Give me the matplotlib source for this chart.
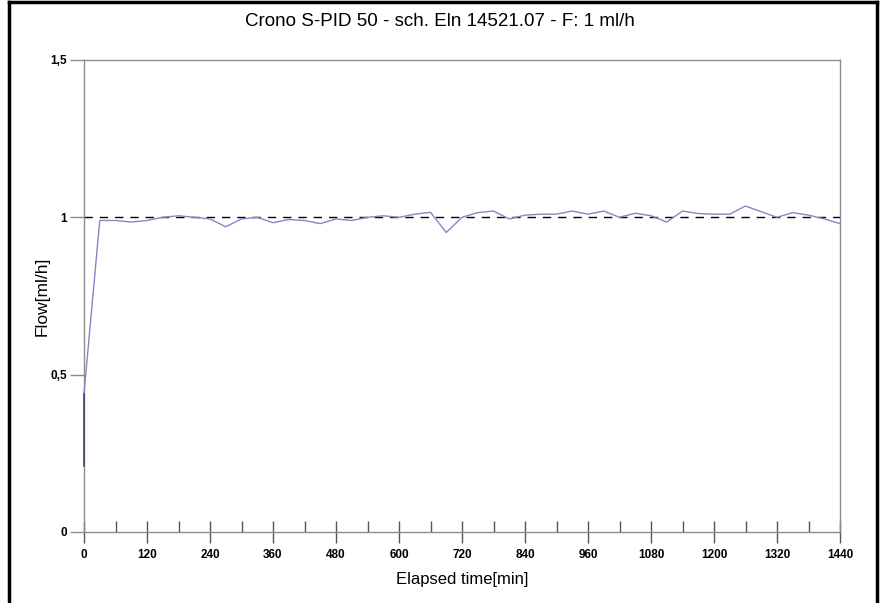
import matplotlib
matplotlib.use("Agg")
import matplotlib.pyplot as plt
from matplotlib.lines import Line2D

# Readings from the flow test (time in min, flow in ml/h)
elapsed_min = [0, 0, 30, 60, 90, 120, 150, 180, 210, 240, 270, 300, 330, 360, 390, 420,
               450, 480, 510, 540, 570, 600, 630, 660, 690, 720, 750, 780, 810, 840,
               870, 900, 930, 960, 990, 1020, 1050, 1080, 1110, 1140, 1170, 1200,
               1230, 1260, 1290, 1320, 1350, 1380, 1410, 1440]
flow_mlh = [0.21, 0.44, 0.99, 0.99, 0.985, 0.99, 1.0, 1.005, 1.0, 0.995, 0.97, 0.995,
            1.0, 0.983, 0.993, 0.99, 0.98, 0.995, 0.99, 1.0, 1.005, 1.0, 1.01, 1.016,
            0.952, 1.0, 1.015, 1.02, 0.995, 1.007, 1.01, 1.01, 1.02, 1.01, 1.02, 1.0,
            1.013, 1.005, 0.985, 1.02, 1.012, 1.01, 1.01, 1.036, 1.018, 1.0, 1.015,
            1.007, 0.995, 0.98]
set_flow = 1.0

x_ticks = list(range(0, 1441, 120))
x_minor = list(range(60, 1441, 120))
y_ticks = [0, 0.5, 1, 1.5]
y_labels = ["0", "0,5", "1", "1,5"]

plt.rcParams["font.family"] = ["Liberation Sans", "DejaVu Sans"]

fig = plt.figure(figsize=(8.8, 6.03), dpi=100)
ax = fig.add_axes([84 / 880, 1 - 532 / 603, 756 / 880, 472 / 603])

# the first vertical bit sits on the axis, draw it on top and unclipped
ax.plot(elapsed_min[:2], flow_mlh[:2], color="#44465e", linewidth=1.2, zorder=4, clip_on=False)
ax.plot(elapsed_min[1:], flow_mlh[1:], color="#8288c6", linewidth=1.0, zorder=3, clip_on=False)
ax.axhline(set_flow, color="black", linestyle=(0, (6, 5)), linewidth=1.0, zorder=2)

ax.set_xlim(0, 1440)
ax.set_ylim(0, 1.5)
ax.set_xticks(x_ticks)
ax.set_xticks(x_minor, minor=True)
ax.set_yticks(y_ticks)
ax.set_yticklabels(y_labels)

for s in ax.spines.values():
    s.set_color("#8c8c8c")
    s.set_linewidth(1.0)

ax.tick_params(axis="x", which="major", direction="inout", length=16, width=1,
               color="#555555", pad=4)
ax.tick_params(axis="x", which="minor", direction="in", length=8, width=1, color="#555555")
ax.tick_params(axis="y", which="major", direction="out", length=10, width=1,
               color="#8c8c8c", pad=2)
for lab in ax.get_xticklabels() + ax.get_yticklabels():
    lab.set_fontweight("bold")
    lab.set_fontsize(8.5)

ax.set_xlabel("Elapsed time[min]", fontsize=12, labelpad=8)
ax.set_ylabel("Flow[ml/h]", fontsize=12.5, va="center")
ax.yaxis.set_label_coords(-(84 - 42) / 756, 0.5)
fig.text(0.5, 1 - 22 / 603, "Crono S-PID 50 - sch. Eln 14521.07 - F: 1 ml/h",
         ha="center", va="center", fontsize=13.5)

# outer frame
fig.add_artist(Line2D([9 / 880, 9 / 880], [0, 1 - 2 / 603], transform=fig.transFigure,
                      color="black", linewidth=2.5))
fig.add_artist(Line2D([9 / 880, 877 / 880], [1 - 2 / 603, 1 - 2 / 603],
                      transform=fig.transFigure, color="black", linewidth=2.5))
fig.add_artist(Line2D([877 / 880, 877 / 880], [0, 1 - 2 / 603], transform=fig.transFigure,
                      color="black", linewidth=2.5))

fig.savefig("out.png", dpi=100)
